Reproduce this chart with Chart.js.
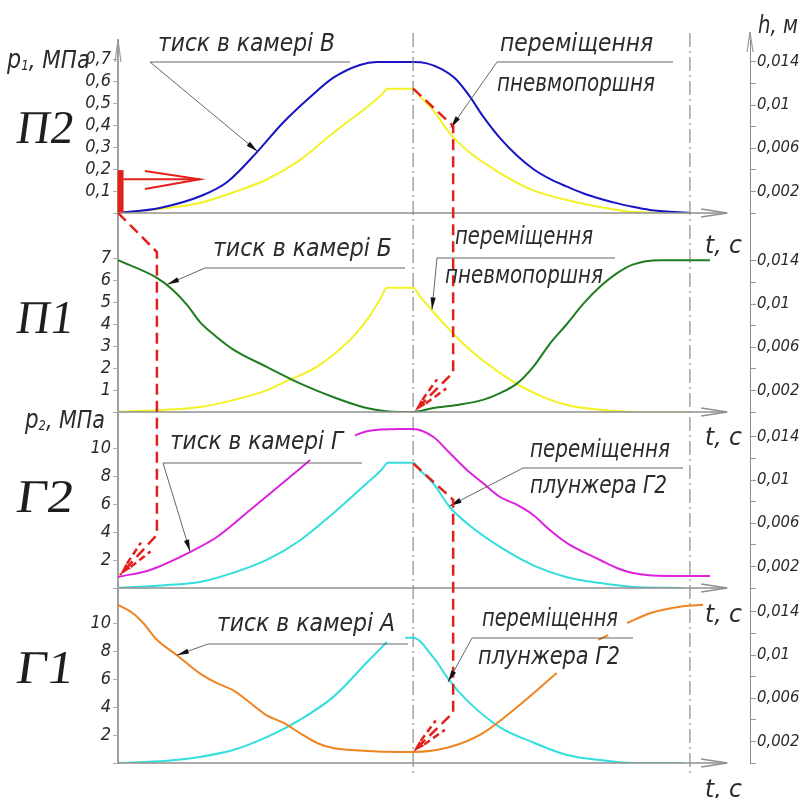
<!DOCTYPE html>
<html>
<head>
<meta charset="utf-8">
<script src="https://cdn.jsdelivr.net/npm/chart.js@4.4.1/dist/chart.umd.min.js"></script>
<style>
  body { margin: 0; background: #fff; }
  #wrap { position: relative; width: 804px; height: 798px; }
  #wrap canvas { position: absolute; left: 0; top: 0; }
</style>
</head>
<body>
<div id="wrap">
  <canvas id="c0" width="804" height="798"></canvas>
  <canvas id="c1" width="804" height="798"></canvas>
  <canvas id="c2" width="804" height="798"></canvas>
  <canvas id="c3" width="804" height="798"></canvas>
</div>
<script>
// time in relative units: 0 = start, 100 = end line
// П2: pressure in chamber В (MPa) and piston travel (m)
const tB  = [0,7.3,14.9,19.1,24.3,28.8,33.6,37.6,42.3,45.3,51.6,54.0,56.5,59.0,61.5,63.8,66.8,69.8,72.6,75.5,78.5,81.3,84.3,87.2,90.0,93.0,98.8,100];
const pB  = [0,0.023,0.082,0.141,0.277,0.409,0.527,0.614,0.673,0.686,0.686,0.68,0.655,0.61,0.53,0.44,0.34,0.26,0.2,0.155,0.12,0.09,0.065,0.045,0.028,0.014,0.002,0];
const tY2 = [0,8.6,14.3,20.1,26.0,31.8,37.6,43.5,46.0,47.2,51.6,52.8,55.1,58.0,61.0,66.8,72.6,78.5,84.3,90.0,98.8];
const hY2 = [0,0.00046,0.00093,0.0019,0.0031,0.0049,0.0074,0.0098,0.0109,0.0115,0.0115,0.0108,0.0095,0.0074,0.0058,0.0037,0.0021,0.0012,0.00056,0.0001,0];

// П1: pressure in chamber Б and piston travel
const tG  = [0,6.8,9.6,12.1,14.3,17.3,20.1,26.0,31.8,37.6,43.5,49.3,51.6,55.1,59.3,63.8,66.8,69.8,72.6,75.5,78.5,81.3,84.3,87.2,90.0,94.8,99.5,103.5];
const pG  = [6.9,6.1,5.55,4.86,4.1,3.4,2.85,2.05,1.3,0.68,0.18,0,0,0.18,0.32,0.55,0.86,1.3,2.05,3.1,4.0,4.9,5.7,6.3,6.7,6.9,6.9,6.9];
const tY1 = [0,14.3,20.1,26.0,28.8,34.8,40.6,43.5,46.0,47.0,51.6,52.8,54.9,58.0,61.0,66.8,72.6,78.5,84.3,90.0,98.8];
const hY1 = [0,0.00046,0.0011,0.002,0.0027,0.0042,0.0067,0.0085,0.0106,0.0115,0.0115,0.0107,0.0094,0.0076,0.006,0.0036,0.0018,0.00065,0.0002,0,0];

// Г2: pressure in chamber Г and plunger travel
const tM  = [0,5.6,12.6,17.3,23.1,28.8,33.6,37.5,41.4,43.5,49.3,51.6,55.1,58.0,61.0,63.8,66.8,69.8,72.6,75.5,78.5,84.3,87.2,90.0,96.0,103.5];
const pM  = [0.79,1.29,2.57,3.64,5.57,7.5,9.14,null,10.9,11.2,11.36,11.36,10.8,9.64,8.43,7.5,6.5,5.93,5.21,4.14,3.21,2.0,1.43,1.07,0.86,0.86];
const tC2 = [0,8.6,14.3,20.1,26.0,31.8,37.6,43.5,46.0,47.2,51.6,52.8,55.1,58.0,61.0,66.8,72.6,78.5,84.3,90.0,98.8];
const hC2 = [0,0.00028,0.00056,0.0014,0.0026,0.0044,0.0069,0.0097,0.0109,0.0116,0.0116,0.0109,0.0097,0.0075,0.006,0.0038,0.0021,0.001,0.00046,0.0001,0];

// Г1: pressure in chamber А and plunger travel
const tO  = [0,2.6,4.4,6.8,10.3,14.3,17.3,20.1,23.1,26.0,28.8,31.8,34.8,37.6,43.5,49.3,51.6,58.0,63.8,69.8,76.7,80.0,84.0,85.7,87.3,89.0,93.0,98.8,102.3];
const pO  = [11.3,10.7,10.0,8.8,7.7,6.4,5.7,5.2,4.3,3.4,2.9,2.14,1.43,1.07,0.86,0.79,0.79,1.14,2.14,4.0,6.43,null,8.8,9.14,null,10.0,10.7,11.2,11.3];
const tC1 = [0,8.6,14.3,20.1,26.0,31.8,37.6,43.5,47.0,48.6,50.2,51.6,55.1,58.0,61.0,66.8,72.6,78.5,84.3,90.0,98.8];
const hC1 = [0,0.0002,0.00056,0.0012,0.0024,0.004,0.0061,0.0093,0.0112,null,0.0116,0.0116,0.0098,0.0076,0.0058,0.0033,0.0019,0.00074,0.00028,0,0];

// red connectors, in the MPa units of the panel they end on
const tRed1 = [0,6.8,6.8,0.35],    pRed1 = [26.8,24.0,3.8,0.93];   // Г2
const tRed2 = [51.6,58.6,58.6,51.9], pRed2 = [14.7,13.0,1.8,0.05]; // П1
const tRed3 = [51.6,58.6,58.6,51.6], pRed3 = [21.4,18.8,3.6,0.8];  // Г1
// start symbol on П2
const tFlagBar  = [0.45,0.45],     pFlagBar  = [0,0.195];
const tFlagLine = [0.9,14.3],      pFlagLine = [0.153,0.153];
const tFlagHead = [4.7,14.3,4.7],  pFlagHead = [0.191,0.153,0.109];

const FONT = "'Liberation Sans Narrow','DejaVu Sans Condensed','Liberation Sans',sans-serif";
const INK = '#2b2b2b', RED = '#e3211c';
const PX_H = 10800;               // px per metre on the h axes
const T_MAX = 110.5, T_ARROW = 106.5, T_MID = 51.6, T_END = 100;

Chart.defaults.font.family = FONT;

function series(t, v, color, axis) {
  return { data: t.map((x, i) => ({ x, y: v[i] })), yAxisID: axis, borderColor: color };
}
function redLine(t, v, extra) {
  return Object.assign({
    data: t.map((x, i) => ({ x, y: v[i] })), yAxisID: 'p', borderColor: RED,
    borderWidth: 2.5, borderDash: [11, 6], clip: false,
    cubicInterpolationMode: 'default', tension: 0
  }, extra);
}

const panels = [
  { top: 40, base: 213, pxP: 220, step: 0.1, pTop: 0.7, dec: 1, name: 'П2', nameY: 143, tcY: 253,
    sets: [
      redLine(tFlagBar, pFlagBar, { borderDash: [], borderWidth: 6 }),
      redLine(tFlagLine, pFlagLine, { borderDash: [], borderWidth: 2 }),
      redLine(tFlagHead, pFlagHead, { borderDash: [], borderWidth: 2 }),
      series(tB, pB, '#1616c4', 'p'), series(tY2, hY2, '#f2f224', 'h')],
    notes: [
      { lines: ['тиск в камері В'], x: [158], y: [51], w: [177], bar: [150, 350, 62], tip: [24.4, 0.28, 'p'] },
      { lines: ['переміщення', 'пневмопоршня'], x: [500, 497], y: [51, 91], w: [153, 158], bar: [497, 673, 62], tip: [58.2, 0.0079, 'h'] }
    ] },
  { top: 213, base: 412, pxP: 22, step: 1, pTop: 7, dec: 0, name: 'П1', nameY: 333, tcY: 445,
    sets: [redLine(tRed2, pRed2, { redArrow: true }),
      series(tG, pG, '#1f7d1f', 'p'), series(tY1, hY1, '#f2f224', 'h')],
    notes: [
      { lines: ['тиск в камері Б'], x: [213], y: [256], w: [179], bar: [205, 405, 268], tip: [8.6, 5.8, 'p'] },
      { lines: ['переміщення', 'пневмопоршня'], x: [455, 445], y: [244, 283], w: [138, 158], bar: [437, 615, 258], tip: [54.9, 0.0095, 'h'] }
    ] },
  { top: 412, base: 588, pxP: 14, step: 2, pTop: 10, dec: 0, name: 'Г2', nameY: 512, tcY: 622,
    sets: [redLine(tRed1, pRed1, { redArrow: true }),
      series(tM, pM, '#dd22dd', 'p'), series(tC2, hC2, '#33dede', 'h')],
    notes: [
      { lines: ['тиск в камері Г'], x: [170], y: [449], w: [173], bar: [163, 362, 463], tip: [12.6, 2.6, 'p'] },
      { lines: ['переміщення', 'плунжера Г2'], x: [530, 530], y: [457, 493], w: [140, 137], bar: [523, 683, 468], tip: [58.0, 0.0076, 'h'] }
    ] },
  { top: 588, base: 763, pxP: 14, step: 2, pTop: 10, dec: 0, name: 'Г1', nameY: 683, tcY: 797,
    sets: [redLine(tRed3, pRed3, { redArrow: true }),
      series(tO, pO, '#ee8522', 'p'), series(tC1, hC1, '#33dede', 'h')],
    notes: [
      { lines: ['тиск в камері А'], x: [217], y: [631], w: [178], bar: [208, 408, 644], tip: [10.3, 7.7, 'p'] },
      { lines: ['переміщення', 'плунжера Г2'], x: [482, 478], y: [626, 664], w: [136, 142], bar: [472, 633, 638], tip: [57.7, 0.0075, 'h'] }
    ] }
];

function seg(ctx, x0, y0, x1, y1) { ctx.beginPath(); ctx.moveTo(x0, y0); ctx.lineTo(x1, y1); ctx.stroke(); }
function head(ctx, x0, y0, x1, y1, len, half) {
  const a = Math.atan2(y1 - y0, x1 - x0), c = Math.cos(a), s = Math.sin(a);
  ctx.beginPath();
  ctx.moveTo(x1, y1);
  ctx.lineTo(x1 - len * c + half * s, y1 - len * s - half * c);
  ctx.lineTo(x1 - len * c - half * s, y1 - len * s + half * c);
  ctx.closePath(); ctx.fill();
}
// italic text squeezed to a given width
function text(ctx, s, x, y, w, size) {
  ctx.save();
  ctx.font = 'italic ' + size + 'px ' + FONT;
  const m = ctx.measureText(s).width;
  ctx.translate(x, y); ctx.scale(w / m, 1);
  ctx.fillText(s, 0, 0);
  ctx.restore();
}
function rich(ctx, parts, x, y, w) {
  ctx.save();
  let tot = 0;
  parts.forEach(p => { ctx.font = 'italic ' + p[1] + 'px ' + FONT; p.w = ctx.measureText(p[0]).width; tot += p.w; });
  ctx.translate(x, y); ctx.scale(w / tot, 1);
  let cx = 0;
  parts.forEach(p => { ctx.font = 'italic ' + p[1] + 'px ' + FONT; ctx.fillText(p[0], cx, p[2]); cx += p.w; });
  ctx.restore();
}
function serif(ctx, s, x, y, w) {
  ctx.save();
  ctx.font = '47px "Liberation Serif","DejaVu Serif",serif';
  const m = ctx.measureText(s).width;
  ctx.translate(x, y); ctx.transform(1, 0, -0.14, 1, 0, 0); ctx.scale(w / m, 1);
  ctx.fillText(s, 0, 0);
  ctx.restore();
}

function decor(k) {
  const P = panels[k];
  return {
    id: 'decor' + k,
    afterDatasetsDraw(chart) {
      const ctx = chart.ctx;
      chart.data.datasets.forEach((ds, i) => {
        if (!ds.redArrow) return;
        const pts = chart.getDatasetMeta(i).data;
        const T = pts[pts.length - 1], Q = pts[pts.length - 2];
        let ux = Q.x - T.x, uy = Q.y - T.y;
        const L = Math.hypot(ux, uy); ux /= L; uy /= L;
        const nx = -uy, ny = ux;
        ctx.save();
        ctx.fillStyle = RED; ctx.strokeStyle = RED; ctx.lineWidth = 2.5;
        ctx.beginPath();
        ctx.moveTo(T.x, T.y);
        ctx.lineTo(T.x + ux * 12 + nx * 3.5, T.y + uy * 12 + ny * 3.5);
        ctx.lineTo(T.x + ux * 12 - nx * 3.5, T.y + uy * 12 - ny * 3.5);
        ctx.closePath(); ctx.fill();
        ctx.setLineDash([7, 4]);
        [1, -1].forEach(s => seg(ctx, T.x + ux * 13 + nx * 2.5 * s, T.y + uy * 13 + ny * 2.5 * s,
          T.x + ux * 38 + nx * 6.5 * s, T.y + uy * 38 + ny * 6.5 * s));
        ctx.restore();
      });
    },
    afterDraw(chart) {
      const ctx = chart.ctx, a = chart.chartArea, xs = chart.scales.x;
      ctx.save();
      // time axis with open arrow
      ctx.strokeStyle = '#8f8f8f'; ctx.lineWidth = 1.5;
      const xe = xs.getPixelForValue(T_ARROW);
      seg(ctx, a.left, a.bottom, xe, a.bottom);
      seg(ctx, xe - 26, a.bottom - 4, xe, a.bottom);
      seg(ctx, xe - 26, a.bottom + 4, xe, a.bottom);

      ctx.fillStyle = '#1e1e1e';
      serif(ctx, P.name, 15, P.nameY, 57);
      ctx.fillStyle = INK;
      text(ctx, 't, c', 705, P.tcY, 37, 25);

      P.notes.forEach(n => {
        ctx.fillStyle = INK;
        n.lines.forEach((s, i) => text(ctx, s, n.x[i], n.y[i], n.w[i], 24));
        ctx.strokeStyle = '#555'; ctx.lineWidth = 0.9;
        seg(ctx, n.bar[0], n.bar[2], n.bar[1], n.bar[2]);
        const tx = xs.getPixelForValue(n.tip[0]);
        const ty = chart.scales[n.tip[2]].getPixelForValue(n.tip[1]);
        seg(ctx, n.bar[0], n.bar[2], tx, ty);
        ctx.fillStyle = '#111';
        head(ctx, n.bar[0], n.bar[2], tx, ty, 12, 2.6);
      });

      ctx.fillStyle = INK;
      if (k === 0) {
        // dash-dot time marks across all panels
        ctx.strokeStyle = '#8a8a8a'; ctx.lineWidth = 1.2; ctx.setLineDash([14, 4, 2, 4]);
        [T_MID, T_END].forEach(t => { const x = xs.getPixelForValue(t); seg(ctx, x, 33, x, 776); });
        ctx.setLineDash([]);
        ctx.strokeStyle = '#999'; ctx.lineWidth = 1.2;
        seg(ctx, a.left - 3, a.top + 22, a.left, a.top);
        seg(ctx, a.left + 3, a.top + 22, a.left, a.top);
        seg(ctx, a.right, 32, a.right, a.top);
        seg(ctx, a.right - 3, 52, a.right, 32);
        seg(ctx, a.right + 3, 52, a.right, 32);
        rich(ctx, [['p', 26, 0], ['1', 14, 2], [', МПа', 25, 0]], 7, 68, 83);
        text(ctx, 'h, м', 758, 33, 40, 25);
      }
      if (k === 2) rich(ctx, [['p', 26, 0], ['2', 14, 2], [', МПа', 25, 0]], 25, 428, 80);
      ctx.restore();
    }
  };
}

function hLabel(v) {
  const n = Math.round(v * 1000);
  return n % 4 === 2 ? ('0,' + String(n).padStart(3, '0')).replace(/0+$/, '') : '';
}

panels.forEach((P, k) => {
  const span = P.base - P.top;
  new Chart(document.getElementById('c' + k), {
    type: 'line',
    data: { datasets: P.sets },
    options: {
      responsive: false, animation: false, devicePixelRatio: 1, events: [],
      layout: { padding: { left: 0, right: 0, top: P.top, bottom: 798 - P.base } },
      plugins: { legend: { display: false }, tooltip: { enabled: false } },
      elements: {
        point: { radius: 0 },
        line: { borderWidth: 2, cubicInterpolationMode: 'monotone' }
      },
      scales: {
        x: { type: 'linear', min: 0, max: T_MAX, display: false },
        p: {
          type: 'linear', position: 'left', min: 0, max: span / P.pxP,
          afterFit: s => { s.width = 118; },
          afterBuildTicks: s => { s.ticks = s.ticks.filter(t => t.value <= P.pTop + 1e-6); },
          ticks: {
            stepSize: P.step, autoSkip: false, includeBounds: false, padding: 2, color: INK,
            font: { size: 18, style: 'italic' },
            callback: v => v < 1e-9 ? '' : Number(v).toFixed(P.dec).replace('.', ',')
          },
          grid: { drawOnChartArea: false, tickLength: 5, color: '#aaa' },
          border: { color: '#a0a0a0', width: 2 }
        },
        h: {
          type: 'linear', position: 'right', min: 0, max: span / PX_H,
          afterFit: s => { s.width = 54; },
          afterBuildTicks: s => { s.ticks = s.ticks.filter(t => t.value <= 0.0141); },
          ticks: {
            stepSize: 0.002, autoSkip: false, includeBounds: false, padding: 1, color: INK,
            font: { size: 16.5, style: 'italic' }, callback: hLabel
          },
          grid: { drawOnChartArea: false, tickLength: 6, color: '#999' },
          border: { color: '#8c8c8c', width: 1 }
        }
      }
    },
    plugins: [decor(k)]
  });
});
</script>
</body>
</html>
